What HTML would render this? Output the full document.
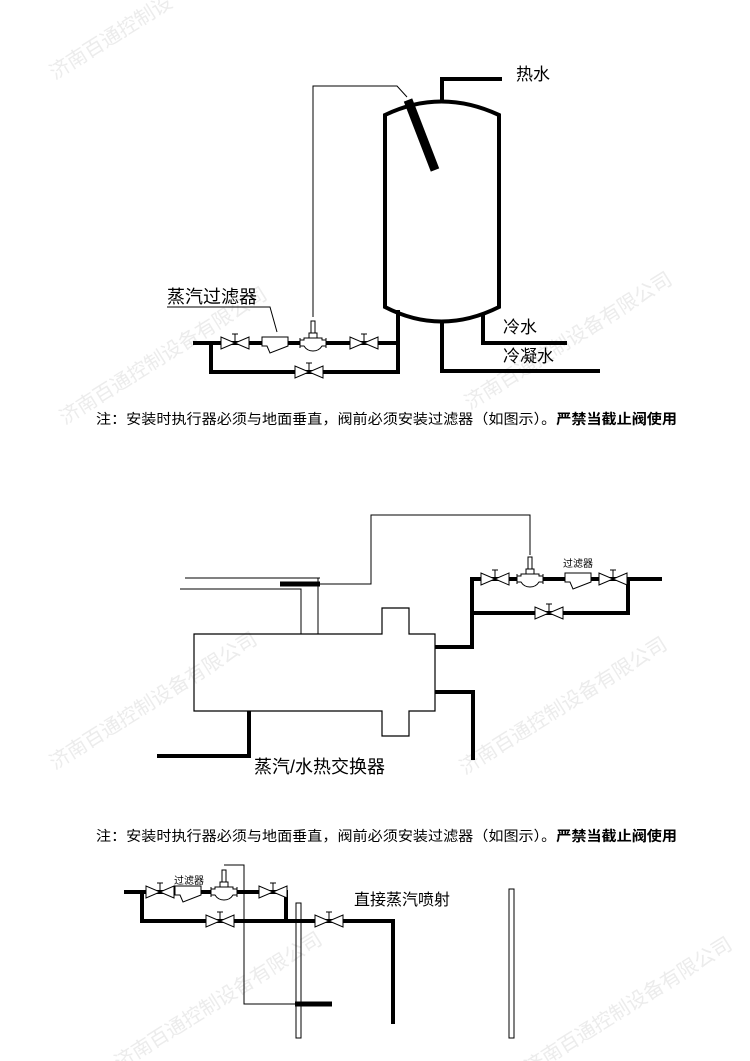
<!DOCTYPE html>
<html><head><meta charset="utf-8"><style>
html,body{margin:0;padding:0;background:#fff;}
svg{display:block;}
text{font-family:"Liberation Sans","Noto Sans CJK SC",sans-serif;}
</style></head><body>
<svg width="750" height="1061" viewBox="0 0 750 1061" xmlns="http://www.w3.org/2000/svg">
<defs>
<g id="gv"><polygon points="-14,-6 -14,6 0,0" fill="#fff" stroke="#000" stroke-width="1"/><polygon points="14,-6 14,6 0,0" fill="#fff" stroke="#000" stroke-width="1"/><line x1="0" y1="0" x2="0" y2="-9" stroke="#000"/><line x1="-3" y1="-9" x2="3" y2="-9" stroke="#000"/></g>
<g id="flt"><polygon points="-13,-6 13,-6 13,3 -5,10 -8,3 -13,3" fill="#fff" stroke="#000" stroke-width="1"/></g>
<g id="cv"><rect x="-13" y="-4" width="26" height="8" fill="#fff" stroke="none"/><path d="M-13,-5 L-13,5 M13,-5 L13,5 M-13,-3 L-9,-3 L-9,-5 L9,-5 L9,-3 L13,-3 M-13,3 L-9,3 Q-6,8 0,8 Q6,8 9,3 L13,3" fill="none" stroke="#000" stroke-width="1"/><rect x="-4" y="-10" width="8" height="5" fill="#fff" stroke="#000"/><rect x="-2" y="-22" width="4" height="12" fill="#fff" stroke="#000"/></g>
</defs>

<g fill="#ececec" font-size="20">
<text transform="translate(55,80) rotate(-32)">济南百通控制设</text>
<text transform="translate(65,425) rotate(-32)">济南百通控制设备有限公司</text>
<text transform="translate(470,410) rotate(-32)">济南百通控制设备有限公司</text>
<text transform="translate(55,770) rotate(-32)">济南百通控制设备有限公司</text>
<text transform="translate(465,775) rotate(-32)">济南百通控制设备有限公司</text>
<text transform="translate(120,1070) rotate(-32)">济南百通控制设备有限公司</text>
<text transform="translate(530,1075) rotate(-32)">济南百通控制设备有限公司</text>
</g>

<g stroke="#000" fill="none">
<path d="M385,115 Q441,88 499,115 L499,307 Q441,336 385,307 Z" stroke-width="4"/>
<polyline points="442,101 442,79 502,79" stroke-width="4"/>
<line x1="408" y1="100" x2="435" y2="170" stroke-width="9"/>
<polyline points="407,97 397,86 313,86 313,317" stroke-width="1"/>
<polyline points="483,313 483,343 567,343" stroke-width="4"/>
<polyline points="442,323 442,371 600,371" stroke-width="4"/>
<polyline points="193,343 398,343" stroke-width="4"/>
<polyline points="398,310 398,372 211,372 211,343" stroke-width="4"/>
<polyline points="167,307 270,307 277,332" stroke-width="1"/>
</g>
<use href="#gv" x="235" y="343"/>
<use href="#flt" x="275" y="343"/>
<use href="#cv" x="313" y="343"/>
<use href="#gv" x="364" y="343"/>
<use href="#gv" x="309" y="372"/>
<text x="516" y="80" font-size="17">热水</text>
<text x="503" y="333" font-size="17">冷水</text>
<text x="503" y="362" font-size="17">冷凝水</text>
<text x="167" y="303" font-size="18">蒸汽过滤器</text>

<text x="96" y="424" font-size="14" textLength="581" lengthAdjust="spacingAndGlyphs">注：安装时执行器必须与地面垂直，阀前必须安装过滤器（如图示）。<tspan font-weight="bold">严禁当截止阀使用</tspan></text>

<g stroke="#000" fill="none">
<path d="M194,634 L382,634 L382,608 L409,608 L409,634 L435,634 L435,711 L409,711 L409,736 L382,736 L382,711 L194,711 Z" stroke-width="1.2"/>
<polyline points="185,578 320,578" stroke-width="1"/>
<polyline points="180,589 301,589 301,634" stroke-width="1"/>
<line x1="318" y1="578" x2="318" y2="634" stroke-width="1"/>
<line x1="280" y1="584" x2="320" y2="584" stroke-width="5"/>
<polyline points="320,584 371,584 371,515 530,515 530,555" stroke-width="1"/>
<polyline points="435,647 472,647 472,579 662,579" stroke-width="4"/>
<polyline points="472,613 628,613 628,579" stroke-width="4"/>
<polyline points="435,692 473,692 473,760" stroke-width="4"/>
<polyline points="249,711 249,756 157,756" stroke-width="4"/>
</g>
<use href="#gv" x="495" y="579"/>
<use href="#cv" x="530" y="579"/>
<use href="#flt" x="578" y="579"/>
<use href="#gv" x="613" y="579"/>
<use href="#gv" x="549" y="613"/>
<text x="563" y="567" font-size="10">过滤器</text>
<text x="254" y="773" font-size="18">蒸汽/水热交换器</text>

<text x="96" y="841" font-size="14" textLength="581" lengthAdjust="spacingAndGlyphs">注：安装时执行器必须与地面垂直，阀前必须安装过滤器（如图示）。<tspan font-weight="bold">严禁当截止阀使用</tspan></text>

<g stroke="#000" fill="none">
<polyline points="124,892 286,892 286,921" stroke-width="4"/>
<polyline points="142,892 142,921 393,921 393,1024" stroke-width="4"/>
<polyline points="224,865 244,865 244,1004 295,1004" stroke-width="1"/>
<line x1="295" y1="1004" x2="332" y2="1004" stroke-width="5"/>
<rect x="296" y="903" width="5" height="135" stroke-width="1"/>
<rect x="509" y="889" width="5" height="149" stroke-width="1"/>
</g>
<use href="#gv" x="160" y="892"/>
<use href="#flt" x="188" y="892"/>
<use href="#cv" x="224" y="892"/>
<use href="#gv" x="273" y="892"/>
<use href="#gv" x="220" y="921"/>
<use href="#gv" x="329" y="921"/>
<text x="174" y="884" font-size="10">过滤器</text>
<text x="354" y="905" font-size="16">直接蒸汽喷射</text>
</svg>
</body></html>
